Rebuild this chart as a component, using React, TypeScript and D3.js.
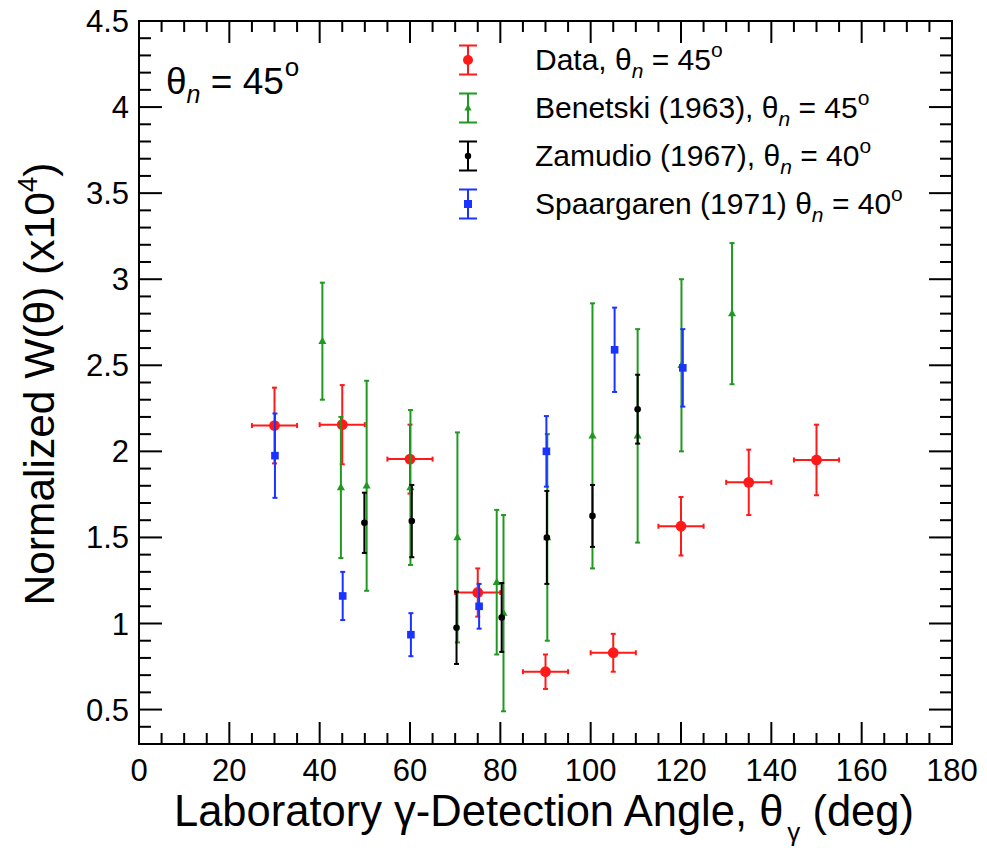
import React from "react";
import * as d3 from "d3";

const dataX = [30, 45, 60, 75, 90, 105, 120, 135, 150];
const dataY = [2.15, 2.155, 1.955, 1.18, 0.72, 0.83, 1.565, 1.82, 1.95];
const dataYErr = [0.22, 0.23, 0.2, 0.14, 0.1, 0.11, 0.17, 0.19, 0.205];
const dataXErr = [5, 5, 5, 5, 5, 5, 5, 5, 5];

const benX = [40.6, 44.7, 50.4, 60.1, 70.5, 79.2, 80.7, 90.4, 100.4, 110.4, 120.1, 131.3];
const benY = [2.64, 1.79, 1.8, 1.79, 1.5, 1.24, 1.06, 1.5, 2.09, 2.09, 2.5, 2.8];
const benErr = [0.34, 0.41, 0.61, 0.45, 0.61, 0.42, 0.57, 0.6, 0.77, 0.62, 0.5, 0.41];

const zamX = [49.9, 60.4, 70.3, 80.3, 90.3, 100.4, 110.4];
const zamY = [1.585, 1.595, 0.975, 1.035, 1.5, 1.625, 2.245];
const zamErr = [0.175, 0.21, 0.21, 0.2, 0.27, 0.18, 0.2];

const spaX = [30.1, 45.1, 60.2, 75.3, 90.2, 105.3, 120.4];
const spaY = [1.975, 1.16, 0.935, 1.1, 2.0, 2.59, 2.485];
const spaErr = [0.245, 0.14, 0.125, 0.13, 0.205, 0.245, 0.225];

const xTicks = [0, 20, 40, 60, 80, 100, 120, 140, 160, 180];
const yTicks = [0.5, 1, 1.5, 2, 2.5, 3, 3.5, 4, 4.5];

const FONT = "'Liberation Sans', Arial, Helvetica, sans-serif";
const RED = "#ff1a1a";
const GREEN = "#1f9a1f";
const BLACK = "#000000";
const BLUE = "#1a33ff";

const W = 987, H = 848;
const L = 139, R = 952, T = 21, B = 744;

export default function App() {
  const x = d3.scaleLinear().domain([0, 180]).range([L, R]);
  const y = d3.scaleLinear().domain([0.3, 4.5]).range([B, T]);

  const xMinor = d3.range(0, 180.001, 5);
  const yMinor = d3.range(0.3, 4.5001, 0.1).map((v) => Math.round(v * 10) / 10);

  const cap = 2.5;

  const vbar = (cx: number, v: number, e: number, color: string, key: string) => {
    const px = x(cx);
    const y1 = y(v + e), y2 = y(v - e);
    return (
      <g key={key} stroke={color} strokeWidth={2}>
        <line x1={px} x2={px} y1={y1} y2={y2} />
        <line x1={px - cap} x2={px + cap} y1={y1} y2={y1} />
        <line x1={px - cap} x2={px + cap} y1={y2} y2={y2} />
      </g>
    );
  };
  const hbar = (cx: number, v: number, e: number, color: string, key: string) => {
    const py = y(v);
    const x1 = x(cx - e), x2 = x(cx + e);
    return (
      <g key={key} stroke={color} strokeWidth={2}>
        <line x1={x1} x2={x2} y1={py} y2={py} />
        <line x1={x1} x2={x1} y1={py - cap} y2={py + cap} />
        <line x1={x2} x2={x2} y1={py - cap} y2={py + cap} />
      </g>
    );
  };

  const tri = (px: number, py: number, s: number) =>
    `M${px},${py - s}L${px + s * 0.9},${py + s * 0.6}L${px - s * 0.9},${py + s * 0.6}Z`;

  const legendRows = [
    { color: RED, marker: "circle", r: 5, pre: "Data, ", post: " = 45" },
    { color: GREEN, marker: "tri", r: 4, pre: "Benetski (1963), ", post: " = 45" },
    { color: BLACK, marker: "circle", r: 3.2, pre: "Zamudio (1967), ", post: " = 40" },
    { color: BLUE, marker: "square", r: 4, pre: "Spaargaren (1971) ", post: " = 40" },
  ];
  const legendY = [60, 108, 156, 204];

  return (
    <svg width={W} height={H} style={{ position: "absolute", left: 0, top: 0, background: "#fff" }} fontFamily={FONT}>
      <rect x={0} y={0} width={W} height={H} fill="#fff" />
      {/* data series */}
      {dataX.map((d, i) => (
        <g key={"d" + i}>
          {hbar(d, dataY[i], dataXErr[i], RED, "h")}
          {vbar(d, dataY[i], dataYErr[i], RED, "v")}
          <circle cx={x(d)} cy={y(dataY[i])} r={5.4} fill={RED} />
        </g>
      ))}
      {benX.map((d, i) => (
        <g key={"b" + i}>
          {vbar(d, benY[i], benErr[i], GREEN, "v")}
          <path d={tri(x(d), y(benY[i]), 4.5)} fill={GREEN} />
        </g>
      ))}
      {zamX.map((d, i) => (
        <g key={"z" + i}>
          {vbar(d, zamY[i], zamErr[i], BLACK, "v")}
          <circle cx={x(d)} cy={y(zamY[i])} r={3.3} fill={BLACK} />
        </g>
      ))}
      {spaX.map((d, i) => (
        <g key={"s" + i}>
          {vbar(d, spaY[i], spaErr[i], BLUE, "v")}
          <rect x={x(d) - 3.8} y={y(spaY[i]) - 3.8} width={7.6} height={7.6} fill={BLUE} />
        </g>
      ))}

      {/* frame */}
      <rect x={L} y={T} width={R - L} height={B - T} fill="none" stroke="#000" strokeWidth={2} />
      {/* x ticks */}
      {xMinor.map((v) => {
        const major = Math.abs(v % 20) < 1e-6;
        const len = major ? 22 : 11;
        return (
          <g key={"xt" + v} stroke="#000" strokeWidth={2}>
            <line x1={x(v)} x2={x(v)} y1={B} y2={B - len} />
            <line x1={x(v)} x2={x(v)} y1={T} y2={T + len} />
          </g>
        );
      })}
      {yMinor.map((v) => {
        const major = Math.abs((v * 10) % 5) < 1e-6;
        const len = major ? 23 : 12;
        return (
          <g key={"yt" + v} stroke="#000" strokeWidth={2}>
            <line x1={L} x2={L + len} y1={y(v)} y2={y(v)} />
            <line x1={R} x2={R - len} y1={y(v)} y2={y(v)} />
          </g>
        );
      })}
      {xTicks.map((v) => (
        <text key={"xl" + v} x={x(v)} y={781} textAnchor="middle" fontSize={31} fill="#000">
          {v}
        </text>
      ))}
      {yTicks.map((v) => (
        <text key={"yl" + v} x={L - 10} y={y(v) + 11} textAnchor="end" fontSize={31} fill="#000">
          {v}
        </text>
      ))}

      {/* axis titles */}
      <text x={544} y={826} textAnchor="middle" fontSize={43.5} fill="#000">
        Laboratory γ-Detection Angle, θ
        <tspan fontSize={26} dy={15} dx={4}>γ</tspan>
        <tspan dy={-15}> (deg)</tspan>
      </text>
      <text transform="translate(54,384) rotate(-90)" textAnchor="middle" fontSize={42.5} fill="#000">
        Normalized W(θ) (x10
        <tspan fontSize={28} dy={-17}>4</tspan>
        <tspan dy={17}>)</tspan>
      </text>

      {/* theta_n label */}
      <text x={166} y={94} fontSize={37} fill="#000">
        θ<tspan fontSize={25} fontStyle="italic" dy={9}>n</tspan>
        <tspan dy={-9}> = 45</tspan>
        <tspan fontSize={26} dy={-18} dx={1}>o</tspan>
      </text>

      {/* legend */}
      {legendRows.map((r, i) => {
        const cy = legendY[i];
        const cx = 468;
        return (
          <g key={"lg" + i}>
            <g stroke={r.color} strokeWidth={2}>
              <line x1={cx} x2={cx} y1={cy - 14.5} y2={cy + 14.5} />
              <line x1={cx - 9} x2={cx + 9} y1={cy - 14.5} y2={cy - 14.5} />
              <line x1={cx - 9} x2={cx + 9} y1={cy + 14.5} y2={cy + 14.5} />
            </g>
            {r.marker === "circle" && <circle cx={cx} cy={cy} r={r.r} fill={r.color} />}
            {r.marker === "tri" && <path d={tri(cx, cy, 4)} fill={r.color} />}
            {r.marker === "square" && <rect x={cx - 4} y={cy - 4} width={8} height={8} fill={r.color} />}
            <text x={535} y={cy + 10} fontSize={30} fill="#000">
              {r.pre}θ<tspan fontSize={21} fontStyle="italic" dy={8}>n</tspan>
              <tspan dy={-8}>{r.post}</tspan>
              <tspan fontSize={21} dy={-13}>o</tspan>
            </text>
          </g>
        );
      })}
    </svg>
  );
}
